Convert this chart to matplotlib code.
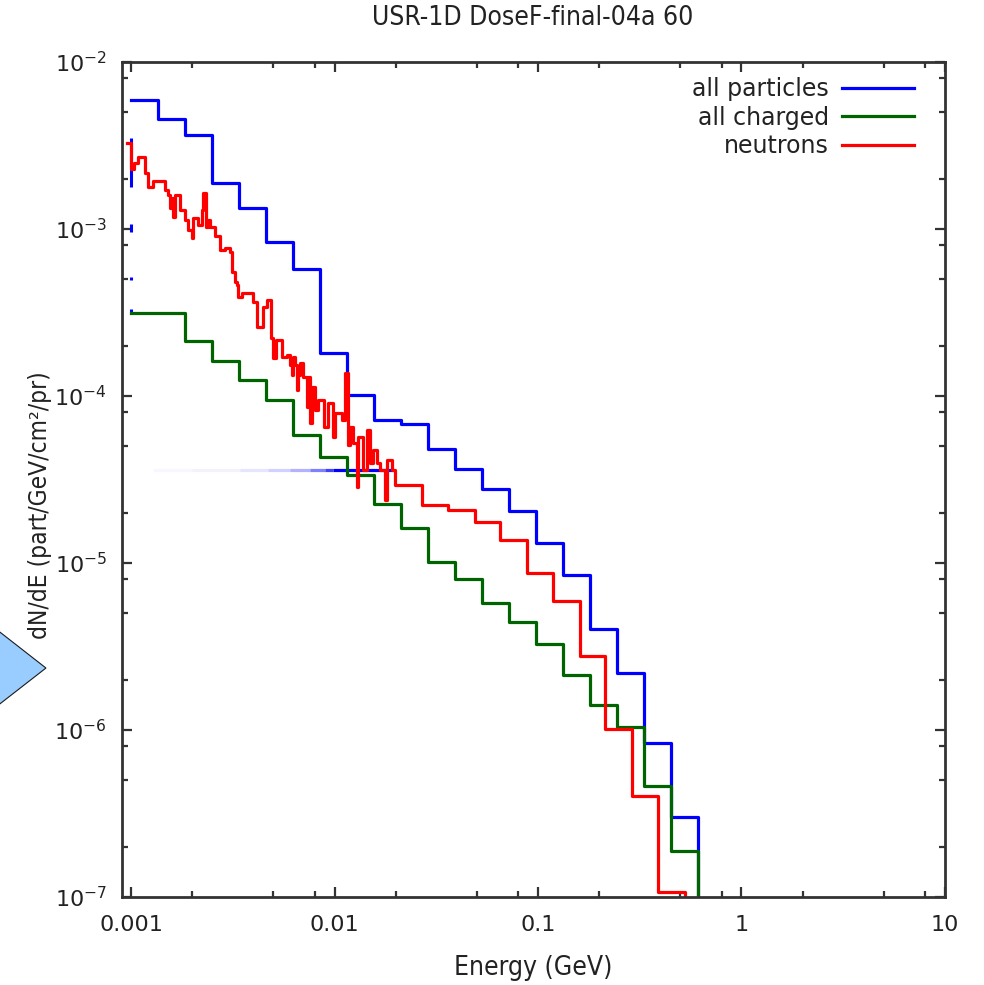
import numpy as np
import matplotlib.pyplot as plt
from matplotlib.patches import Polygon
from matplotlib.ticker import FixedLocator, FixedFormatter, LogLocator, NullFormatter

# coarse energy grid (GeV) shared by the all-particle and charged spectra
edges = np.array([0.001, 0.001357, 0.001841, 0.002499, 0.003391, 0.004602,
                  0.006245, 0.008475, 0.0115, 0.01561, 0.02118, 0.02874,
                  0.039, 0.05293, 0.07183, 0.09747, 0.1323, 0.1795,
                  0.2436, 0.3306, 0.4486, 0.6088])

all_particles = np.array([5.921e-3, 4.557e-3, 3.654e-3, 1.878e-3, 1.330e-3,
                          8.395e-4, 5.737e-4, 1.801e-4, 1.014e-4, 7.18e-5,
                          6.795e-5, 4.815e-5, 3.640e-5, 2.763e-5, 2.056e-5,
                          1.323e-5, 8.44e-6, 4.025e-6, 2.194e-6, 8.395e-7,
                          3.025e-7])

all_charged = np.array([3.127e-4, 3.127e-4, 2.144e-4, 1.620e-4, 1.242e-4,
                        9.462e-5, 5.842e-5, 4.330e-5, 3.364e-5, 2.256e-5,
                        1.620e-5, 1.014e-5, 8.02e-6, 5.737e-6, 4.451e-6,
                        3.261e-6, 2.135e-6, 1.412e-6, 1.047e-6, 4.640e-7,
                        1.886e-7])

# neutron group boundaries (GeV): fine groups below ~20 MeV, coarse above
neut_edges = np.array([
    0.000953, 0.000997, 0.001035, 0.001086, 0.001172, 0.001216, 0.001287,
    0.001469, 0.001525, 0.001555, 0.001585, 0.001614, 0.001645, 0.001741,
    0.001842, 0.001913, 0.001988, 0.002024, 0.002142, 0.002226, 0.002266,
    0.002337, 0.002398, 0.002445, 0.002587, 0.002738, 0.002897, 0.003065,
    0.003125, 0.003244, 0.003307, 0.003367, 0.003499, 0.003990, 0.004147,
    0.004468, 0.004644, 0.004859, 0.005004, 0.005159, 0.005503, 0.005823,
    0.006044, 0.006162, 0.006274, 0.006396, 0.006520, 0.006639, 0.006768,
    0.007026, 0.007301, 0.007435, 0.007579, 0.007753, 0.008020, 0.008297,
    0.008880, 0.009291, 0.009866, 0.01006, 0.01085, 0.01126, 0.01169,
    0.01192, 0.01237, 0.01286, 0.01309, 0.01385, 0.01440, 0.01494,
    0.01551, 0.01612, 0.01673, 0.01771, 0.01805, 0.01910, 0.01983,
    0.02683, 0.03625, 0.04903, 0.06506, 0.08799, 0.1181, 0.1609,
    0.2142, 0.2907, 0.3874, 0.5276])

neutrons = np.array([
    3.261e-3, 2.278e-3, 2.474e-3, 2.709e-3, 2.156e-3, 1.792e-3, 1.946e-3,
    1.712e-3, 1.598e-3, 1.336e-3, 1.533e-3, 1.180e-3, 1.598e-3, 1.300e-3,
    1.132e-3, 9.863e-4, 8.834e-4, 1.159e-3, 1.057e-3, 1.300e-3, 1.643e-3,
    1.032e-3, 1.132e-3, 1.032e-3, 9.080e-4, 7.485e-4, 7.661e-4, 7.311e-4,
    5.550e-4, 4.835e-4, 4.620e-4, 3.931e-4, 4.121e-4, 3.669e-4, 2.600e-4,
    3.424e-4, 3.757e-4, 2.215e-4, 1.681e-4, 2.165e-4, 1.719e-4, 1.760e-4,
    1.533e-4, 1.336e-4, 1.719e-4, 1.533e-4, 1.086e-4, 1.336e-4, 1.569e-4,
    1.305e-4, 8.627e-5, 1.305e-4, 6.862e-5, 1.137e-4, 8.245e-5, 9.462e-5,
    6.549e-5, 9.043e-5, 5.706e-5, 7.877e-5, 7.18e-5, 1.373e-4, 5.088e-5,
    6.549e-5, 5.231e-5, 2.863e-5, 5.706e-5, 3.605e-5, 6.257e-5, 3.971e-5,
    4.749e-5, 3.971e-5, 3.605e-5, 2.384e-5, 4.139e-5, 3.605e-5,
    2.931e-5, 2.225e-5, 2.077e-5, 1.767e-5, 1.364e-5, 8.747e-6, 5.923e-6,
    2.786e-6, 1.010e-6, 4.025e-7, 1.067e-7])

# stray pieces of the all-particle curve at the low-energy edge
stub_lo = [1.784e-3, 9.6e-4, 4.92e-4, 3.10e-4]
stub_hi = [3.506e-3, 1.07e-3, 5.13e-4, 3.32e-4]
# faint all-particle trace under the neutron groups: (E_lo, E_hi, alpha)
trace_level = 3.58e-5
trace_parts = [(0.00128, 0.00200, 0.03), (0.00200, 0.00343, 0.05),
               (0.00343, 0.00470, 0.10), (0.00470, 0.00604, 0.18),
               (0.00604, 0.00760, 0.30), (0.00760, 0.00900, 0.5),
               (0.00900, 0.00983, 0.75), (0.00983, 0.0194, 1.0)]

BLUE, GREEN, RED = '#0000ff', '#006400', '#ff0000'
AXCOL = '#333333'
TXT = '#222222'
LW = 2.3

fig = plt.figure(figsize=(9.84, 9.85), dpi=100)
ax = fig.add_axes([0.12398, 0.08934, 0.83638, 0.84772])
ax.set_xscale('log')
ax.set_yscale('log')


def stairs(e, v, **kw):
    # histogram outline; the trailing zero closes the last bin downward
    return ax.step(e, np.append(v, 0.0), where='post', **kw)[0]


for lo, hi, a in trace_parts:
    ax.plot([lo, hi], [trace_level, trace_level], color=BLUE, lw=LW,
            alpha=a, solid_capstyle='butt')
ax.vlines(np.full(len(stub_lo), edges[0]), stub_lo, stub_hi, color=BLUE, lw=2.2)

h1 = stairs(edges, all_particles, color=BLUE, lw=LW, label='all particles')
h2 = stairs(edges, all_charged, color=GREEN, lw=LW, label='all charged')
h3 = stairs(neut_edges, neutrons, color=RED, lw=LW, label='neutrons')

ax.set_xlim(9.03e-4, 10)
ax.set_ylim(1e-7, 1e-2)

xt = [0.001, 0.01, 0.1, 1, 10]
ax.xaxis.set_major_locator(FixedLocator(xt))
ax.xaxis.set_major_formatter(FixedFormatter(['0.001', '0.01', '0.1', '1', '10']))
yt = [1e-7, 1e-6, 1e-5, 1e-4, 1e-3, 1e-2]
ax.yaxis.set_major_locator(FixedLocator(yt))
ax.yaxis.set_major_formatter(FixedFormatter([r'$\mathregular{10^{%d}}$' % p
                                             for p in range(-7, -1)]))
for axis in (ax.xaxis, ax.yaxis):
    axis.set_minor_locator(LogLocator(base=10, subs=[2, 5, 8]))
    axis.set_minor_formatter(NullFormatter())

ax.tick_params(which='both', direction='in', top=True, right=True,
               color=AXCOL, width=1.6)
ax.tick_params(which='major', length=7.5, labelsize=16, labelcolor=TXT)
ax.tick_params(which='minor', length=4)
ax.tick_params(axis='x', which='major', pad=13)
ax.tick_params(axis='y', which='major', pad=11)
for s in ax.spines.values():
    s.set_color(AXCOL)
    s.set_linewidth(2)

ax.legend(handles=[h1, h2, h3], loc='upper right', bbox_to_anchor=(0.974, 0.993),
          frameon=False, markerfirst=False, fontsize=17, handlelength=3.05,
          handletextpad=0.55, labelspacing=0.18, borderaxespad=0.0,
          labelcolor=TXT)

fig.text(0.5412, 0.9817, 'USR-1D DoseF-final-04a 60', ha='center', va='center',
         fontsize=19, color=TXT, fontstretch='condensed')
fig.text(0.5417, 0.0172, 'Energy (GeV)', ha='center', va='center',
         fontsize=19, color=TXT, fontstretch='condensed')
fig.text(0.0406, 0.4873, 'dN/dE (part/GeV/cm²/pr)', ha='center', va='center',
         rotation=90, fontsize=17.6, color=TXT, fontstretch='condensed')

# pointer shape sitting on the left margin
fig.add_artist(Polygon([(-0.01, 0.3660), (0.0467, 0.3218), (-0.01, 0.2777)],
                       closed=True, transform=fig.transFigure,
                       facecolor='#99ccff', edgecolor='#1a1a1a', lw=0.8))

fig.savefig('out.png', dpi=100)
